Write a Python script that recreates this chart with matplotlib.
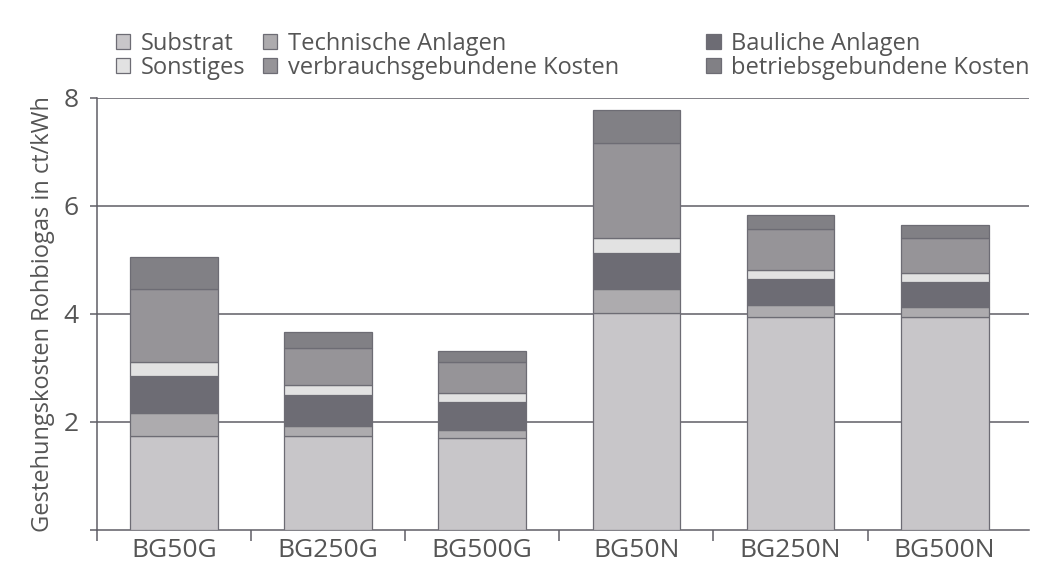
import numpy as np
import matplotlib.pyplot as plt

# Gestehungskosten Rohbiogas in ct/kWh, je Anlage und Kostenart
anlagen = ['BG50G', 'BG250G', 'BG500G', 'BG50N', 'BG250N', 'BG500N']
substrat = [1.74, 1.73, 1.70, 4.01, 3.95, 3.95]
technische = [0.42, 0.20, 0.14, 0.45, 0.22, 0.17]
bauliche = [0.68, 0.57, 0.53, 0.66, 0.48, 0.47]
sonstiges = [0.26, 0.19, 0.16, 0.28, 0.16, 0.16]
verbrauch = [1.37, 0.67, 0.57, 1.76, 0.76, 0.66]
betrieb = [0.58, 0.31, 0.22, 0.61, 0.26, 0.23]

reihen = [
    ('Substrat', substrat, '#c8c6c9'),
    ('Technische Anlagen', technische, '#adabae'),
    ('Bauliche Anlagen', bauliche, '#6d6c74'),
    ('Sonstiges', sonstiges, '#e2e2e2'),
    ('verbrauchsgebundene Kosten', verbrauch, '#969498'),
    ('betriebsgebundene Kosten', betrieb, '#818085'),
]

plt.rcParams['font.family'] = ['Open Sans', 'DejaVu Sans']
txt = '#555555'
linie = '#5f5e66'

fig = plt.figure(figsize=(10.43, 5.63), dpi=100)
ax = fig.add_axes([0.093, 0.059, 0.894, 0.767])

x = np.arange(len(anlagen))
unten = np.zeros(len(anlagen))
handles = {}
for name, werte, farbe in reihen:
    b = ax.bar(x, werte, width=0.57, bottom=unten, color=farbe,
               edgecolor='#6d6c74', linewidth=0.9, label=name, zorder=3)
    handles[name] = b
    unten += np.array(werte)

ax.set_xlim(-0.5, 5.55)
ax.set_ylim(0, 8)
ax.set_yticks([0, 2, 4, 6, 8])
ax.set_yticklabels(['', '2', '4', '6', '8'])
for yy in [2, 4, 6, 8]:
    ax.axhline(yy, color=linie, linewidth=1.1, zorder=1)

ax.set_xticks(x)
ax.set_xticklabels(anlagen)
ax.set_xticks(np.arange(-0.5, 5.0, 1.0), minor=True)
ax.tick_params(axis='x', which='major', length=0, pad=6, labelsize=19, labelcolor=txt)
ax.tick_params(axis='x', which='minor', length=8, width=1.1, color=linie, direction='out')
ax.tick_params(axis='y', length=5, width=1.1, color=linie, pad=8, labelsize=19, labelcolor=txt)

for s in ['top', 'right']:
    ax.spines[s].set_visible(False)
for s in ['left', 'bottom']:
    ax.spines[s].set_color(linie)
    ax.spines[s].set_linewidth(1.1)

ax.set_ylabel('Gestehungskosten Rohbiogas in ct/kWh', fontsize=17, color=txt, labelpad=6)

# Legende: drei Spalten mit je zwei Einträgen
spalten = [
    (['Substrat', 'Sonstiges'], 0.111),
    (['Technische Anlagen', 'verbrauchsgebundene Kosten'], 0.252),
    (['Bauliche Anlagen', 'betriebsgebundene Kosten'], 0.677),
]
for namen, links in spalten:
    leg = fig.legend([handles[n] for n in namen], namen, ncol=1,
                     loc='upper left', bbox_to_anchor=(links, 0.944), frameon=False,
                     fontsize=17, handlelength=0.62, handleheight=0.62,
                     handletextpad=0.45, labelspacing=0.0, borderaxespad=0,
                     borderpad=0)
    for t in leg.get_texts():
        t.set_color(txt)

fig.savefig('out.png', dpi=100)
